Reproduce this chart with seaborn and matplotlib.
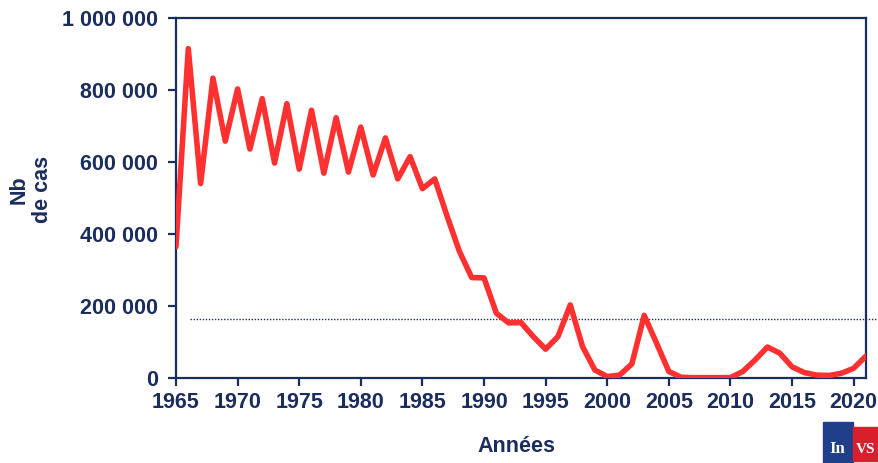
import matplotlib
matplotlib.use("Agg")
import matplotlib.pyplot as plt
import matplotlib.ticker as mticker
import matplotlib.patches as mpatches
import seaborn as sns
import pandas as pd

years = list(range(1965, 2022))
cases = [365000, 915000, 540000, 833000, 658000, 803000, 636000, 776000, 597000, 762000,
         580000, 744000, 569000, 723000, 572000, 697000, 564000, 667000, 553000, 615000,
         526000, 553000, 450000, 352000, 279000, 278000, 180000, 153000, 154000, 115000,
         80000, 115000, 203000, 87000, 22000, 4000, 8000, 39000, 174000, 97000,
         18000, 2000, 1000, 1000, 1000, 1000, 18000, 50000, 86000, 69000,
         31000, 15000, 8000, 7000, 13000, 27000, 61000]
threshold = 164000

navy = "#1b2d5c"
red = "#ff3030"

df = pd.DataFrame({"Années": years, "cas": cases})

sns.set_style("white")
plt.rcParams["font.family"] = ["Liberation Sans", "DejaVu Sans"]
plt.rcParams["font.weight"] = "bold"

fig = plt.figure(figsize=(8.79, 4.63), dpi=100)
ax = fig.add_axes([0.2002, 0.1836, 0.785, 0.7775])

sns.lineplot(data=df, x="Années", y="cas", color=red, lw=4, ax=ax, zorder=3)
ax.plot([1966.1, 2022.4], [threshold, threshold], ls=(0, (1, 1.2)), color=navy,
        lw=1, clip_on=False, zorder=2)

ax.set_xlim(1965, 2021)
ax.set_ylim(0, 1000000)
ax.set_xticks(range(1965, 2021, 5))
ax.set_yticks(range(0, 1000001, 200000))
ax.yaxis.set_major_formatter(mticker.FuncFormatter(lambda v, p: f"{v:,.0f}".replace(",", " ")))

for s in ax.spines.values():
    s.set_visible(True)
    s.set_color(navy)
    s.set_linewidth(1.6)

ax.tick_params(axis="both", colors=navy, labelsize=15.5, width=1.6, length=6, direction="out",
               left=True, bottom=True)
ax.tick_params(axis="y", pad=7)
ax.tick_params(axis="x", pad=4)
for lab in ax.get_xticklabels() + ax.get_yticklabels():
    lab.set_fontweight("bold")
    lab.set_color(navy)

ax.set_xlabel("Années", fontsize=15.5, fontweight="bold", color=navy)
ax.xaxis.set_label_coords(0.494, -0.16)
ax.set_ylabel("")
fig.text(0.035, 0.59, "Nb\nde cas", rotation=90, ha="center", va="center", fontsize=15.5,
         fontweight="bold", color=navy, linespacing=1.1)

# logo
fig.patches.append(mpatches.Rectangle((0.936, 0.0), 0.034, 0.088, transform=fig.transFigure,
                                      color="#1f3f8a", zorder=5))
fig.patches.append(mpatches.Rectangle((0.970, 0.005), 0.03, 0.072, transform=fig.transFigure,
                                      color="#d8202c", zorder=5))
fig.text(0.953, 0.03, "In", fontsize=12, color="white", family="Liberation Serif",
         ha="center", va="center", zorder=6)
fig.text(0.985, 0.03, "VS", fontsize=11, color="white", family="Liberation Serif",
         ha="center", va="center", zorder=6)

fig.savefig("out.png", dpi=100)
